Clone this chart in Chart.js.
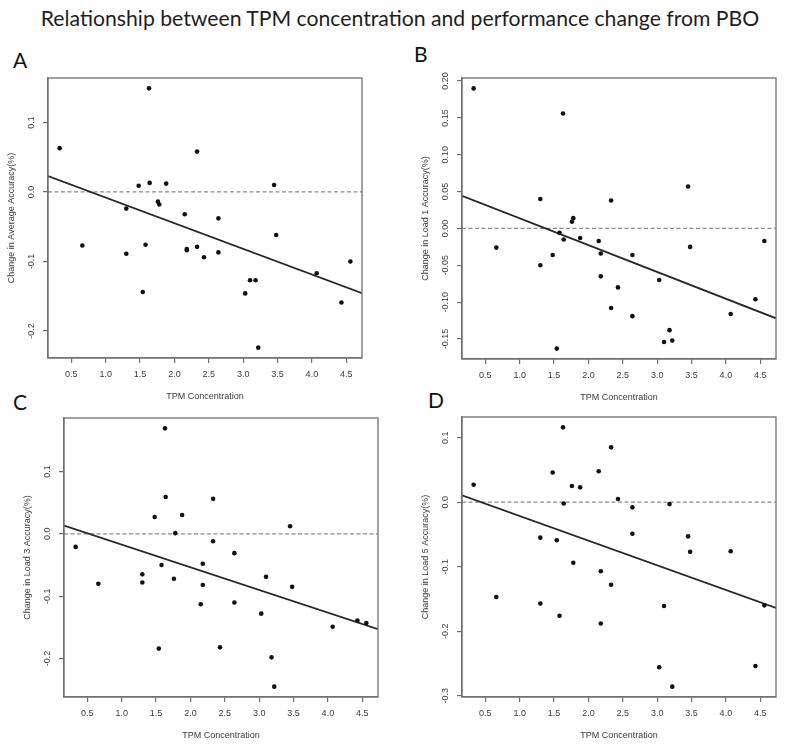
<!DOCTYPE html>
<html>
<head>
<meta charset="utf-8">
<script src="https://cdn.jsdelivr.net/npm/chart.js@4.4.1/dist/chart.umd.min.js"></script>
<style>
    body { margin: 0; background: #fff; }
    #page { position: relative; width: 786px; height: 746px; overflow: hidden; }
    h1 {
        position: absolute; left: 0; top: 5px; width: 800px; margin: 0;
        text-align: center; font: 400 21.2px Lato, "Open Sans", sans-serif; color: #1e1e1e;
    }
    .letter { position: absolute; font: 400 21px/21px Lato, "Open Sans", sans-serif; color: #111; }
    .panel { position: absolute; }
</style>
</head>
<body>
<div id="page">
    <h1>Relationship between TPM concentration and performance change from PBO</h1>
    <div class="letter" style="left:13px;top:49px">A</div>
    <div class="letter" style="left:414px;top:43px">B</div>
    <div class="letter" style="left:13px;top:391px">C</div>
    <div class="letter" style="left:428px;top:389px">D</div>
    <div class="panel" id="panel-a"><canvas></canvas></div>
    <div class="panel" id="panel-b"><canvas></canvas></div>
    <div class="panel" id="panel-c"><canvas></canvas></div>
    <div class="panel" id="panel-d"><canvas></canvas></div>
</div>
<script>
// TPM concentration per participant (same for every panel)
const tpm = [0.33, 0.66, 1.30, 1.30, 1.48, 1.54, 1.58, 1.63, 1.64, 1.76, 1.78, 1.88, 2.15, 2.18, 2.18,
    2.33, 2.33, 2.43, 2.64, 2.64, 3.03, 3.10, 3.18, 3.22, 3.45, 3.48, 4.07, 4.43, 4.56];

// change from PBO
const avgAccuracy = [0.063, -0.077, -0.024, -0.089, 0.009, -0.144, -0.076, 0.149, 0.013, -0.014, -0.018, 0.012, -0.032, -0.082, -0.084,
    0.058, -0.079, -0.094, -0.038, -0.087, -0.146, -0.127, -0.127, -0.224, 0.010, -0.062, -0.117, -0.159, -0.100];
const load1Accuracy = [0.190, -0.026, 0.040, -0.050, -0.036, -0.163, -0.006, 0.156, -0.015, 0.009, 0.014, -0.013, -0.017, -0.034, -0.065,
    0.038, -0.108, -0.080, -0.036, -0.119, -0.070, -0.154, -0.138, -0.152, 0.057, -0.025, -0.116, -0.096, -0.017];
const load3Accuracy = [-0.021, -0.080, -0.065, -0.078, 0.027, -0.184, -0.050, 0.169, 0.059, -0.072, 0.001, 0.030, -0.113, -0.048, -0.082,
    0.056, -0.012, -0.182, -0.031, -0.110, -0.128, -0.069, -0.198, -0.245, 0.012, -0.085, -0.149, -0.139, -0.143];
const load5Accuracy = [0.027, -0.147, -0.055, -0.157, 0.046, -0.059, -0.176, 0.116, -0.002, 0.025, -0.094, 0.023, 0.048, -0.107, -0.188,
    0.085, -0.128, 0.005, -0.008, -0.049, -0.256, -0.161, -0.003, -0.286, -0.053, -0.077, -0.076, -0.254, -0.160];

const xTitle = 'TPM Concentration';
const yTitles = ['Change in Average Accuracy(%)', 'Change in Load 1 Accuracy(%)', 'Change in Load 3 Accuracy(%)', 'Change in Load 5 Accuracy(%)'];
const yStep = [0.1, 0.05, 0.1, 0.1];
const yDigits = [1, 2, 1, 1];

// plot box of each panel on the page: left, top, width, height
const boxes = [[48, 78, 314, 280], [462, 78, 314, 281], [64, 418, 314, 279], [462, 417, 314, 280]];
const ids = ['panel-a', 'panel-b', 'panel-c', 'panel-d'];

Chart.defaults.font.family = '"Liberation Sans", Arial, sans-serif';
Chart.defaults.color = '#3a3a3a';

// R style range: data range + 4% each side
function r_range(vals) {
    let lo = Math.min(...vals), hi = Math.max(...vals);
    let d = (hi - lo) * 0.04;
    return [lo - d, hi + d];
}

function lm(xs, ys) {
    let n = xs.length;
    let mx = xs.reduce((a, b) => a + b, 0) / n;
    let my = ys.reduce((a, b) => a + b, 0) / n;
    let sxy = 0, sxx = 0;
    xs.forEach((x, i) => {
        sxy += (x - mx) * (ys[i] - my);
        sxx += (x - mx) * (x - mx);
    });
    let b = sxy / sxx;
    return { a: my - b * mx, b };
}

// box around the plot + y tick labels drawn rotated like R
const rPlot = {
    id: 'rplot',
    afterDraw(chart, args, opts) {
        let { ctx, chartArea: a } = chart;
        let ys = chart.scales.y;
        ctx.save();
        ctx.strokeStyle = '#707070';
        ctx.lineWidth = 1.3;
        ctx.strokeRect(a.left, a.top, a.right - a.left, a.bottom - a.top);
        ctx.fillStyle = '#3a3a3a';
        ctx.font = '9px "Liberation Sans", Arial, sans-serif';
        ctx.textAlign = 'center';
        ctx.textBaseline = 'middle';
        ys.ticks.forEach(t => {
            ctx.save();
            ctx.translate(a.left - 16, ys.getPixelForValue(t.value));
            ctx.rotate(-Math.PI / 2);
            ctx.fillText(t.value.toFixed(opts.digits), 0, 0);
            ctx.restore();
        });
        ctx.restore();
    }
};

function draw_panel(i, ys) {
    let [bx, by, bw, bh] = boxes[i];
    let el = document.getElementById(ids[i]);
    el.style.left = (bx - 48) + 'px';
    el.style.top = (by - 12) + 'px';
    el.style.width = (bw + 58) + 'px';
    el.style.height = (bh + 60) + 'px';

    let [xmin, xmax] = r_range(tpm);
    let [ymin, ymax] = r_range(ys);
    let fit = lm(tpm, ys);

    new Chart(el.querySelector('canvas'), {
        type: 'scatter',
        plugins: [rPlot],
        data: {
            datasets: [
                {
                    data: tpm.map((x, j) => ({ x, y: ys[j] })),
                    pointRadius: 2.3,
                    pointBackgroundColor: '#111',
                    pointBorderWidth: 0,
                },
                {
                    data: [{ x: xmin, y: fit.a + fit.b * xmin }, { x: xmax, y: fit.a + fit.b * xmax }],
                    showLine: true,
                    borderColor: '#262626',
                    borderWidth: 1.8,
                    pointRadius: 0,
                },
                {
                    data: [{ x: xmin, y: 0 }, { x: xmax, y: 0 }],
                    showLine: true,
                    borderColor: '#8a8a8a',
                    borderWidth: 1.2,
                    borderDash: [4, 2.5],
                    pointRadius: 0,
                },
            ],
        },
        options: {
            responsive: true,
            maintainAspectRatio: false,
            animation: false,
            layout: { padding: { top: 12, right: 10, left: 0, bottom: 0 } },
            plugins: {
                legend: { display: false },
                tooltip: { enabled: false },
                rplot: { digits: yDigits[i] },
            },
            scales: {
                x: {
                    type: 'linear',
                    min: xmin,
                    max: xmax,
                    afterFit: s => { s.height = 48; },
                    grid: { drawOnChartArea: false, tickLength: 5, color: '#707070', lineWidth: 1.2 },
                    border: { color: '#707070', width: 1.3 },
                    ticks: {
                        stepSize: 0.5,
                        includeBounds: false,
                        maxRotation: 0,
                        padding: 6,
                        font: { size: 9 },
                        callback: v => v.toFixed(1),
                    },
                    title: { display: true, text: xTitle, font: { size: 9 }, padding: { top: 0, bottom: 4 } },
                },
                y: {
                    type: 'linear',
                    min: ymin,
                    max: ymax,
                    afterFit: s => { s.width = 48; },
                    grid: { drawOnChartArea: false, tickLength: 5, color: '#707070', lineWidth: 1.2 },
                    border: { color: '#707070', width: 1.3 },
                    ticks: {
                        stepSize: yStep[i],
                        includeBounds: false,
                        color: 'rgba(0,0,0,0)',
                        font: { size: 9 },
                    },
                    title: { display: true, text: yTitles[i], font: { size: 9 }, padding: { top: 6, bottom: 0 } },
                },
            },
        },
    });
}

[avgAccuracy, load1Accuracy, load3Accuracy, load5Accuracy].forEach((ys, i) => draw_panel(i, ys));
</script>
</body>
</html>
